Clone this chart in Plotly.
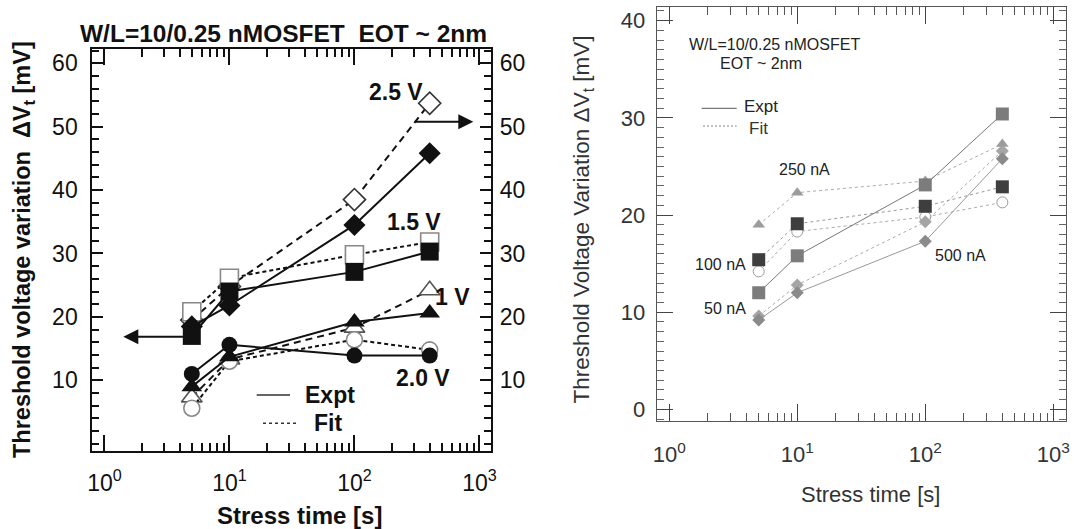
import plotly.graph_objects as go

W, H = 1076, 529

# ---------------- data ----------------
stress_time = [5, 10, 100, 400]

# left panel: gate-voltage stress (Expt solid, Fit dashed/dotted)
expt_2p5V = [18.5, 21.8, 34.5, 45.8]
fit_2p5V = [19.5, 24.8, 38.5, 53.7]
expt_1p5V = [17.0, 24.0, 27.1, 30.3]
fit_1p5V = [20.8, 26.1, 29.8, 31.8]
expt_1V = [9.0, 13.7, 19.2, 20.6]
fit_1V = [7.3, 13.3, 18.3, 24.2]
expt_2p0V = [11.0, 15.6, 13.9, 13.9]
fit_2p0V = [5.6, 13.0, 16.4, 14.8]

# right panel: current stress
r_sq_gray = [12.0, 15.8, 23.1, 30.4]
r_tri = [19.0, 22.3, 23.5, 27.3]
r_sq_dark = [15.4, 19.1, 20.9, 22.9]
r_circle = [14.2, 18.3, 19.8, 21.3]
r_dia_a = [9.2, 12.0, 17.3, 25.8]
r_dia_b = [9.6, 12.8, 19.3, 26.6]

left_yticks = [10, 20, 30, 40, 50, 60]
right_yticks = [0, 10, 20, 30, 40]
x_tickvals = [1, 10, 100, 1000]
x_ticktext = ["10<sup>0</sup>", "10<sup>1</sup>", "10<sup>2</sup>", "10<sup>3</sup>"]
x_minor = [m * 10 ** e for e in range(3) for m in range(2, 10)]


def px(x):
    return x / W


def py(y):
    return 1 - y / H


FB = "Liberation Sans"

fig = go.Figure()

# ---------- left panel ----------
def left_trace(yv, symbol, size, filled, dash, mcol="#111", lcol="#111", lw=2):
    return go.Scatter(
        x=stress_time, y=yv, xaxis="x", yaxis="y", mode="lines+markers",
        line=dict(color=lcol, width=lw, dash=dash),
        marker=dict(symbol=symbol, size=size,
                    color=(mcol if filled else "white"),
                    line=dict(color=("#111" if filled else mcol), width=(0 if filled else 1.6))),
        showlegend=False, cliponaxis=False)

fig.add_trace(left_trace(fit_2p5V, "diamond", 17, False, "7px,5px", mcol="#333"))
fig.add_trace(left_trace(fit_1p5V, "square", 18, False, "4px,3px", mcol="#888"))
fig.add_trace(left_trace(fit_1V, "triangle-up", 18, False, "7px,5px", mcol="#555"))
fig.add_trace(left_trace(fit_2p0V, "circle", 16, False, "4px,3px", mcol="#888"))
fig.add_trace(left_trace(expt_2p5V, "diamond", 17, True, "solid"))
fig.add_trace(left_trace(expt_1p5V, "square", 18, True, "solid"))
fig.add_trace(left_trace(expt_1V, "triangle-up", 18, True, "solid"))
fig.add_trace(left_trace(expt_2p0V, "circle", 16, True, "solid"))
# dummy trace so the right-hand label axis is drawn
fig.add_trace(go.Scatter(x=[], y=[], xaxis="x", yaxis="y3", showlegend=False))

# ---------- right panel ----------
def right_trace(yv, symbol, size, mcol, dash, lcol, open_=False):
    return go.Scatter(
        x=stress_time, y=yv, xaxis="x2", yaxis="y2", mode="lines+markers",
        line=dict(color=lcol, width=1, dash=dash),
        marker=dict(symbol=symbol, size=size,
                    color=("white" if open_ else mcol),
                    line=dict(color=mcol, width=(1 if open_ else 0))),
        showlegend=False, cliponaxis=False)

fig.add_trace(right_trace(r_circle, "circle", 11, "#9a9a9a", "dot", "#aaa", open_=True))
fig.add_trace(right_trace(r_dia_b, "diamond", 10, "#a5a5a5", "dot", "#aaa"))
fig.add_trace(right_trace(r_dia_a, "diamond", 10, "#8a8a8a", "solid", "#999"))
fig.add_trace(right_trace(r_tri, "triangle-up", 11, "#9c9c9c", "dot", "#aaa"))
fig.add_trace(right_trace(r_sq_dark, "square", 13, "#3e3e3e", "dot", "#999"))
fig.add_trace(right_trace(r_sq_gray, "square", 13, "#7c7c7c", "solid", "#777"))

# ---------- axes ----------
tickfontL = dict(family=FB, size=23, color="#111")
tickfontR = dict(family=FB, size=22, color="#333")

fig.update_layout(
    width=W, height=H, margin=dict(l=0, r=0, t=0, b=0),
    paper_bgcolor="white", plot_bgcolor="white", showlegend=False,
    xaxis=dict(domain=[px(92.3), px(490.7)], type="log", range=[-0.097, 3.09],
               anchor="y", showline=True, linecolor="#111", linewidth=2, mirror="ticks",
               ticks="inside", ticklen=16, tickwidth=2, tickcolor="#111",
               tickmode="array", tickvals=x_tickvals, ticktext=x_ticktext,
               tickfont=dict(family=FB, size=23, color="#111"), ticklabelstandoff=10,
               minor=dict(tickmode="array", tickvals=x_minor, ticks="inside", ticklen=8,
                          tickwidth=2, tickcolor="#111", showgrid=False),
               showgrid=False, zeroline=False, automargin=False),
    yaxis=dict(domain=[py(451), py(49.3)], range=[-1.15, 62.2], anchor="x",
               showline=True, linecolor="#111", linewidth=2, mirror="ticks",
               ticks="inside", ticklen=11, tickwidth=2, tickcolor="#111",
               tickmode="array", tickvals=left_yticks, tickfont=tickfontL,
               ticklabelstandoff=8,
               minor=dict(tickmode="linear", tick0=0, dtick=2, ticks="inside", ticklen=7,
                          tickwidth=2, tickcolor="#111", showgrid=False),
               showgrid=False, zeroline=False, automargin=False),
    yaxis3=dict(overlaying="y", matches="y", side="right", anchor="x",
                range=[-1.15, 62.2], showline=False, ticks="",
                tickmode="array", tickvals=left_yticks, tickfont=tickfontL,
                ticklabelstandoff=8, showgrid=False, zeroline=False, automargin=False),
    xaxis2=dict(domain=[px(656.7), px(1065.7)], type="log", range=[-0.098, 3.097],
                anchor="y2", showline=True, linecolor="#555", linewidth=1.2, mirror="ticks",
                ticks="inside", ticklen=17, tickwidth=1.2, tickcolor="#444",
                tickmode="array", tickvals=x_tickvals, ticktext=x_ticktext,
                tickfont=tickfontR, ticklabelstandoff=14,
                minor=dict(tickmode="array", tickvals=x_minor, ticks="inside", ticklen=8,
                           tickwidth=1, tickcolor="#555", showgrid=False),
                showgrid=False, zeroline=False, automargin=False),
    yaxis2=dict(domain=[py(420.7), py(7.3)], range=[-1.17, 41.38], anchor="x2",
                showline=True, linecolor="#555", linewidth=1.2, mirror="ticks",
                ticks="inside", ticklen=16, tickwidth=1.2, tickcolor="#444",
                tickmode="array", tickvals=right_yticks, tickfont=tickfontR,
                ticklabelstandoff=6,
                minor=dict(tickmode="linear", tick0=0, dtick=1, ticks="inside", ticklen=7,
                           tickwidth=1, tickcolor="#666", showgrid=False),
                showgrid=False, zeroline=False, automargin=False),
)

ann = []


def text(x, y, s, size, bold=True, xanchor="center", color="#111", angle=0):
    fam = FB
    t = f"<b>{s}</b>" if bold else s
    ann.append(dict(x=px(x), y=py(y), xref="paper", yref="paper", text=t, showarrow=False,
                    xanchor=xanchor, yanchor="middle", textangle=angle,
                    font=dict(family=fam, size=size, color=color)))


# left panel texts
text(283, 34, "W/L=10/0.25 nMOSFET\u00a0\u00a0EOT ~ 2nm", 24.5)
text(23, 250, "Threshold voltage variation\u00a0\u00a0\u0394V<sub>t</sub> [mV]", 23.5, angle=-90)
text(299.7, 515, "Stress time [s]", 24)
text(395.8, 91.7, "2.5 V", 23)
text(414, 221.7, "1.5 V", 23)
text(452.5, 296.7, "1 V", 23)
text(423, 378.3, "2.0 V", 23)
text(303, 395, "Expt", 23, xanchor="left")
text(311.7, 423.3, "Fit", 23, xanchor="left")

# right panel texts
text(774, 44.4, "W/L=10/0.25 nMOSFET", 16, bold=False, color="#222")
text(760.5, 63.2, "EOT ~ 2nm", 16, bold=False, color="#222")
text(582.7, 219.7, "Threshold Voltage Variation \u0394V<sub>t</sub> [mV]", 22.5, bold=False,
     color="#333", angle=-90)
text(870, 494, "Stress time [s]", 22, bold=False, color="#333")
text(741.7, 106.7, "Expt", 17, bold=False, xanchor="left", color="#222")
text(746.7, 128.3, "Fit", 17, bold=False, xanchor="left", color="#333")
text(804, 169.3, "250 nA", 16, bold=False, color="#222")
text(720.8, 264, "100 nA", 16, bold=False, color="#222")
text(725.3, 308.3, "50 nA", 16, bold=False, color="#222")
text(960, 256, "500 nA", 16, bold=False, color="#222")

# arrows (left panel)
ann.append(dict(x=px(123.3), y=py(336.7), xref="paper", yref="paper", ax=63.4, ay=0,
                showarrow=True, arrowhead=2, arrowsize=1.5, arrowwidth=2, arrowcolor="#111",
                text=""))
ann.append(dict(x=px(473.3), y=py(121.7), xref="paper", yref="paper", ax=-60, ay=0,
                showarrow=True, arrowhead=2, arrowsize=1.5, arrowwidth=2, arrowcolor="#111",
                text=""))

fig.update_layout(annotations=ann)

# legend sample lines
shapes = [
    dict(type="line", xref="paper", yref="paper", x0=px(256.7), x1=px(290), y0=py(395), y1=py(395),
         line=dict(color="#333", width=1.5)),
    dict(type="line", xref="paper", yref="paper", x0=px(263), x1=px(297), y0=py(423.3), y1=py(423.3),
         line=dict(color="#333", width=1.5, dash="3px,3px")),
    dict(type="line", xref="paper", yref="paper", x0=px(701.7), x1=px(736.7), y0=py(108.3), y1=py(108.3),
         line=dict(color="#555", width=1)),
    dict(type="line", xref="paper", yref="paper", x0=px(703), x1=px(736.7), y0=py(126), y1=py(126),
         line=dict(color="#888", width=1, dash="2px,2px")),
]
fig.update_layout(shapes=shapes)

fig.write_html("out.html")
